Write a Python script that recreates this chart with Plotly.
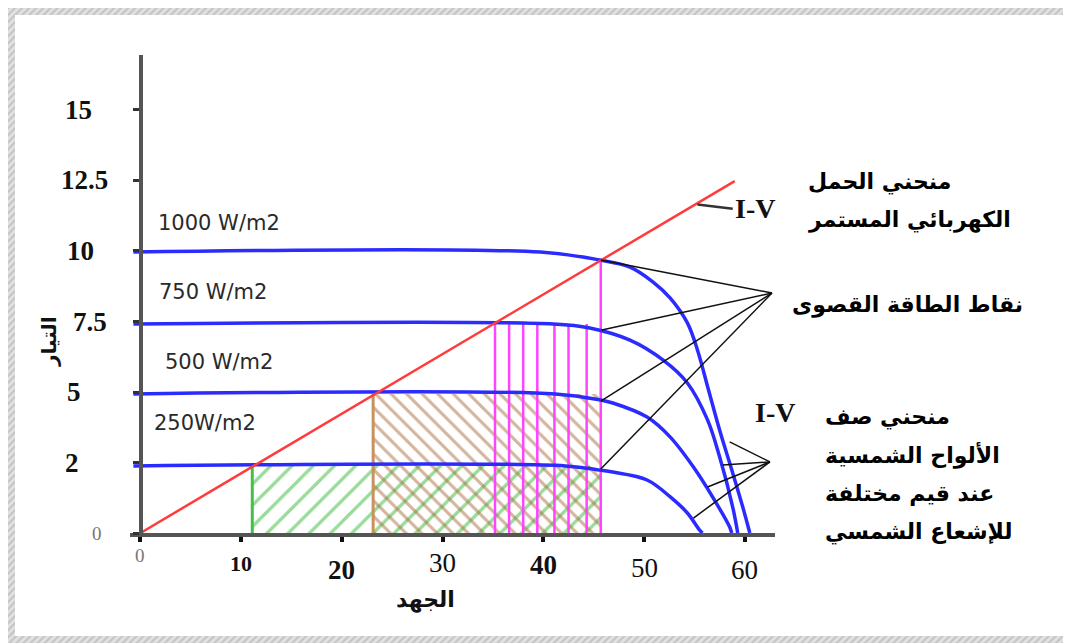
import plotly.graph_objects as go

# ---------------- data ----------------
irr_labels = ["1000 W/m2", "750 W/m2", "500 W/m2", "250W/m2"]

v_1000 = [-0.7, 39.7, 45.6, 48.6, 50.9, 52.6, 54.3, 55.3, 56.4, 57.5, 58.8, 59.8, 60.5]
i_1000 = [9.96, 9.96, 9.68, 9.43, 8.90, 8.33, 7.45, 6.49, 5.07, 3.65, 2.13, 0.92, 0.0]
v_750 = [-0.7, 41.0, 44.6, 48.6, 51.9, 54.3, 56.3, 57.5, 58.8, 59.3]
i_750 = [7.41, 7.41, 7.27, 6.84, 6.13, 5.32, 4.01, 2.70, 0.92, 0.0]
v_500 = [-0.7, 41.2, 45.6, 46.9, 50.3, 52.6, 54.9, 56.8, 58.5, 58.7]
i_500 = [4.93, 4.93, 4.72, 4.61, 4.11, 3.40, 2.34, 1.28, 0.21, 0.0]
v_250 = [-0.7, 42.2, 45.6, 46.9, 50.3, 52.6, 54.3, 55.5, 55.8]
i_250 = [2.38, 2.38, 2.23, 2.16, 1.88, 1.28, 0.71, 0.11, 0.0]

v_load = [0.0, 59.0]
i_load = [0.0, 12.48]

v_mpp = 45.7
green_v = [11.1, v_mpp]
green_i = 2.38
brown_v = [23.1, v_mpp]
brown_i = 4.93
magenta_v = [35.2, 36.6, 38.0, 39.4, 41.1, 42.5, 44.3, 45.7]
magenta_top = [7.41, 7.41, 7.41, 7.41, 7.41, 7.41, 7.41, 9.68]

apex_mpp = (62.7, 8.51)
mpp_points = [(45.7, 9.68), (45.8, 7.20), (45.7, 4.68), (45.7, 2.27)]
apex_iv = (62.5, 2.52)
iv_points = [(58.5, 3.23), (57.8, 2.41), (56.3, 1.63), (54.9, 0.53)]
load_tag_v = [55.3, 58.8]
load_tag_i = [11.65, 11.5]

x_tickvals = [0, 10, 20, 30, 40, 50, 60]
x_ticktext = ["0", "10", "20", "30", "40", "50", "60"]
y_tickvals = [0, 2.5, 5, 7.5, 10, 12.5, 15]
y_ticktext = ["0", "2", "5", "7.5", "10", "12.5", "15"]

ar_load = ["منحني الحمل", "الكهربائي المستمر"]
ar_mpp = "نقاط الطاقة القصوى"
ar_array = ["منحني صف", "الألواح الشمسية", "عند قيم مختلفة", "للإشعاع الشمسي"]
ar_ytitle = "التيار"
ar_xtitle = "الجهد"

# ---------------- figure ----------------
W, H = 1071, 643          # window size
OFF = 8                   # page body margin
FW, FH = W - OFF, H - OFF # figure size
fig = go.Figure()

BLUE = "#2b2bff"

# hatched areas
fig.add_trace(go.Scatter(
    x=[green_v[0], green_v[1], green_v[1], green_v[0], green_v[0]],
    y=[0, 0, green_i, green_i, 0], mode="lines", line=dict(width=0, color="rgba(0,0,0,0)"),
    fill="toself", fillcolor="rgba(0,0,0,0)",
    fillpattern=dict(shape="/", size=15, solidity=0.22, fgcolor="#34b834", bgcolor="rgba(0,0,0,0)"),
    hoverinfo="skip", showlegend=False))
fig.add_trace(go.Scatter(
    x=[brown_v[0], brown_v[1], brown_v[1], brown_v[0], brown_v[0]],
    y=[0, 0, brown_i, brown_i, 0], mode="lines", line=dict(width=0, color="rgba(0,0,0,0)"),
    fill="toself", fillcolor="rgba(0,0,0,0)",
    fillpattern=dict(shape="\\", size=11, solidity=0.28, fgcolor="#a86c3c", bgcolor="rgba(0,0,0,0)"),
    hoverinfo="skip", showlegend=False))
# left edges of the hatched rectangles
fig.add_trace(go.Scatter(x=[green_v[0], green_v[0]], y=[0, green_i], mode="lines",
                         line=dict(color="#44c044", width=3), hoverinfo="skip", showlegend=False))
fig.add_trace(go.Scatter(x=[brown_v[0], brown_v[0]], y=[0, brown_i], mode="lines",
                         line=dict(color="#c8925c", width=3), hoverinfo="skip", showlegend=False))

# magenta vertical lines
mx, my = [], []
for v, t in zip(magenta_v, magenta_top):
    mx += [v, v, None]
    my += [0, t, None]
fig.add_trace(go.Scatter(x=mx, y=my, mode="lines", line=dict(color="#ff44ff", width=2.5),
                         hoverinfo="skip", showlegend=False))

# I-V curves
for vv, ii in [(v_1000, i_1000), (v_750, i_750), (v_500, i_500), (v_250, i_250)]:
    fig.add_trace(go.Scatter(x=vv, y=ii, mode="lines",
                             line=dict(color=BLUE, width=3.5, shape="spline", smoothing=1.0),
                             hoverinfo="skip", showlegend=False, cliponaxis=False))

# load line
fig.add_trace(go.Scatter(x=v_load, y=i_load, mode="lines", line=dict(color="#ff3b3b", width=2.5),
                         hoverinfo="skip", showlegend=False, cliponaxis=False))

# leader lines
lx, ly = [], []
for apex, pts in [(apex_mpp, mpp_points), (apex_iv, iv_points)]:
    for p in pts:
        lx += [apex[0], p[0], None]
        ly += [apex[1], p[1], None]
fig.add_trace(go.Scatter(x=lx, y=ly, mode="lines", line=dict(color="#111111", width=1.5),
                         hoverinfo="skip", showlegend=False, cliponaxis=False))
fig.add_trace(go.Scatter(x=load_tag_v, y=load_tag_i, mode="lines", line=dict(color="#333333", width=2.5),
                         hoverinfo="skip", showlegend=False, cliponaxis=False))

# hatched frame (screen-pixel coordinates on a full-page helper axis)
fx = [7, 1073, 1073, 7, 7, None, 7, 1073, 1073, 7, 7, None,
      7, 15, 15, 7, 7, None, 1065, 1073, 1073, 1065, 1065]
fy = [7, 7, 15, 15, 7, None, 636, 636, 645, 645, 636, None,
      15, 15, 636, 636, 15, None, 15, 15, 636, 636, 15]
fig.add_trace(go.Scatter(x=fx, y=fy, xaxis="x2", yaxis="y2", mode="lines",
                         line=dict(width=0, color="rgba(0,0,0,0)"), fill="toself",
                         fillcolor="rgba(0,0,0,0)",
                         fillpattern=dict(shape="/", size=5, solidity=0.45, fgcolor="#a8a8a8",
                                          bgcolor="#e2e2e2"),
                         hoverinfo="skip", showlegend=False))

# ---------------- layout ----------------
def fx_(px):
    return (px - OFF) / FW

def fy_(py):
    return (H - py) / FH

fig.update_layout(
    width=FW, height=FH, autosize=False,
    margin=dict(l=0, r=0, t=0, b=0),
    paper_bgcolor="#ffffff", plot_bgcolor="rgba(0,0,0,0)",
    xaxis=dict(domain=[fx_(130), fx_(775)], range=[-1.04, 63.0], anchor="y",
               showline=True, linecolor="#555555", linewidth=4,
               tickvals=x_tickvals, showticklabels=False,
               ticks="outside", ticklen=5, tickwidth=4, tickcolor="#111111",
               showgrid=False, zeroline=False, fixedrange=True),
    yaxis=dict(domain=[fy_(533), fy_(55)], range=[0, 16.95], anchor="free", position=fx_(140.5),
               showline=True, linecolor="#555555", linewidth=4,
               tickvals=y_tickvals, showticklabels=False,
               ticks="outside", ticklen=6, tickwidth=3, tickcolor="#333333",
               showgrid=False, zeroline=False, fixedrange=True),
    xaxis2=dict(domain=[0, 1], range=[OFF, W], anchor="y2", visible=False, fixedrange=True),
    yaxis2=dict(domain=[0, 1], range=[H, OFF], anchor="x2", visible=False, fixedrange=True),
)

SERIF = "Liberation Serif"
ann = []

# y tick labels
y_lab_x = [97, 72, 74, 90, 80, 84, 78]
for val, txt, px in zip(y_tickvals, y_ticktext, y_lab_x):
    if txt == "0":
        f = dict(family=SERIF, size=19, color="#777777")
    else:
        f = dict(family=SERIF, size=27, color="#111111", weight="bold")
    ann.append(dict(x=px, y=val, xref="x2", yref="y", text=txt, showarrow=False,
                    xanchor="center", yanchor="middle", font=f))

# x tick labels
x_lab_py = [555, 563, 570, 563, 565, 568, 570]
x_lab_style = ["zero", "b21", "b", "r", "b", "r", "r"]
for val, txt, py, st in zip(x_tickvals, x_ticktext, x_lab_py, x_lab_style):
    if st == "zero":
        f = dict(family=SERIF, size=19, color="#777777")
    elif st == "b21":
        f = dict(family=SERIF, size=22, color="#111111", weight="bold")
    elif st == "b":
        f = dict(family=SERIF, size=27, color="#111111", weight="bold")
    else:
        f = dict(family=SERIF, size=27, color="#111111")
    ann.append(dict(x=val, y=py, xref="x", yref="y2", text=txt, showarrow=False,
                    xanchor="center", yanchor="middle", font=f))

# irradiance labels
irr_pos = [(219, 223), (213, 292), (219, 362), (205, 423)]
for txt, (px, py) in zip(irr_labels, irr_pos):
    ann.append(dict(x=px, y=py, xref="x2", yref="y2", text=txt, showarrow=False,
                    xanchor="center", yanchor="middle",
                    font=dict(family="DejaVu Sans", size=21, color="#2a2a2a")))

AR = dict(family="DejaVu Sans", size=22, color="#000000", weight="bold")
for txt, py in zip(ar_load, [182, 220]):
    ann.append(dict(x=806, y=py, xref="x2", yref="y2", text=txt, showarrow=False,
                    xanchor="left", yanchor="middle", font=AR))
ann.append(dict(x=790, y=305, xref="x2", yref="y2", text=ar_mpp, showarrow=False,
                xanchor="left", yanchor="middle", font=AR))
for txt, py in zip(ar_array, [417, 455, 493, 532]):
    ann.append(dict(x=823, y=py, xref="x2", yref="y2", text=txt, showarrow=False,
                    xanchor="left", yanchor="middle", font=AR))

# I-V tags
for px, py in [(755, 208), (775, 412)]:
    ann.append(dict(x=px, y=py, xref="x2", yref="y2", text="I-V", showarrow=False,
                    xanchor="center", yanchor="middle",
                    font=dict(family=SERIF, size=28, color="#111111", weight="bold")))

# axis titles
ann.append(dict(x=49, y=342, xref="x2", yref="y2", text=ar_ytitle, showarrow=False,
                textangle=-90, xanchor="center", yanchor="middle",
                font=dict(family="DejaVu Sans", size=20, color="#111111", weight="bold")))
ann.append(dict(x=425, y=600, xref="x2", yref="y2", text=ar_xtitle, showarrow=False,
                xanchor="center", yanchor="middle",
                font=dict(family="DejaVu Sans", size=22, color="#111111", weight="bold")))

fig.update_layout(annotations=ann)
fig.write_html("out.html")
